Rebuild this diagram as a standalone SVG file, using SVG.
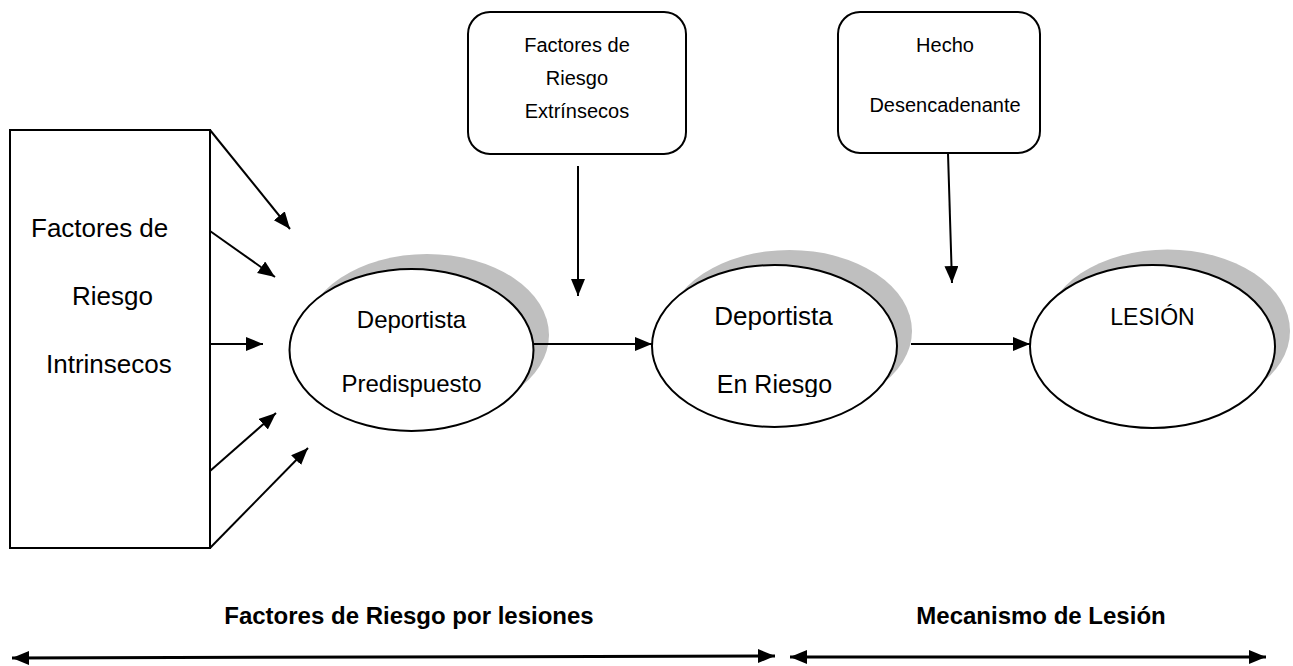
<svg xmlns="http://www.w3.org/2000/svg" width="1293" height="666" viewBox="0 0 1293 666">
<style>
.t{font-family:"Liberation Sans",Arial,sans-serif;fill:#000}
.b{font-weight:bold}
.shape{fill:#fff;stroke:#000;stroke-width:2}
.shadow{fill:#bfbfbf;stroke:none}
.conn{stroke:#000;stroke-width:2;fill:none}
.thick{stroke:#000;stroke-width:3;fill:none}
</style>
<defs>
<marker id="ah" markerUnits="userSpaceOnUse" markerWidth="18" markerHeight="16" refX="17" refY="7" orient="auto">
<path d="M0,0 L17,7 L0,14 Z" fill="#000"/>
</marker>
<marker id="ahb" markerUnits="userSpaceOnUse" markerWidth="18" markerHeight="16" refX="17" refY="7" orient="auto-start-reverse">
<path d="M0,0 L17,7 L0,14 Z" fill="#000"/>
</marker>
<clipPath id="clipEn"><rect x="600" y="200" width="400" height="197"/></clipPath>
</defs>

<g id="intrinsecos">
<rect class="shape" x="10" y="130" width="200" height="418"/>
<text class="t" x="31" y="237" font-size="26">Factores de</text>
<text class="t" x="72" y="305" font-size="26">Riesgo</text>
<text class="t" x="46" y="373" font-size="26">Intrinsecos</text>
</g>

<g id="extrinsecos">
<rect class="shape" x="468" y="12" width="218" height="142" rx="22" ry="22"/>
<text class="t" x="577" y="52" font-size="20" text-anchor="middle">Factores de</text>
<text class="t" x="577" y="85" font-size="20" text-anchor="middle">Riesgo</text>
<text class="t" x="577" y="118" font-size="20" text-anchor="middle">Extrínsecos</text>
</g>

<g id="hecho">
<rect class="shape" x="838" y="12" width="202" height="141" rx="22" ry="22"/>
<text class="t" x="945" y="52" font-size="20" text-anchor="middle">Hecho</text>
<text class="t" x="945" y="112" font-size="20" text-anchor="middle">Desencadenante</text>
</g>

<g id="predispuesto">
<ellipse class="shadow" cx="427" cy="335" rx="122" ry="81"/>
<ellipse class="shape" cx="411.5" cy="350" rx="122" ry="81"/>
<text class="t" x="411.5" y="328" font-size="24" text-anchor="middle">Deportista</text>
<text class="t" x="411.5" y="392" font-size="24" text-anchor="middle">Predispuesto</text>
</g>

<g id="enriesgo">
<ellipse class="shadow" cx="789.5" cy="331" rx="122.5" ry="81"/>
<ellipse class="shape" cx="774.5" cy="346" rx="122.5" ry="81"/>
<text class="t" x="773.5" y="325" font-size="26" text-anchor="middle">Deportista</text>
<text class="t" x="774.5" y="393" font-size="25" text-anchor="middle" clip-path="url(#clipEn)">En Riesgo</text>
</g>

<g id="lesion">
<ellipse class="shadow" cx="1167.5" cy="331" rx="122.5" ry="81.5"/>
<ellipse class="shape" cx="1152.5" cy="346.5" rx="122.5" ry="81.5"/>
<text class="t" x="1152.5" y="325" font-size="23" text-anchor="middle">LESIÓN</text>
</g>

<g id="labels">
<text class="t b" x="409" y="624" font-size="24" text-anchor="middle">Factores de Riesgo por lesiones</text>
<text class="t b" x="1041" y="624" font-size="24" text-anchor="middle">Mecanismo de Lesión</text>
</g>

<g id="connectors">
<line class="conn" x1="210" y1="130" x2="290" y2="229" marker-end="url(#ah)"/>
<line class="conn" x1="210" y1="231" x2="275" y2="277" marker-end="url(#ah)"/>
<line class="conn" x1="210" y1="344" x2="263" y2="344" marker-end="url(#ah)"/>
<line class="conn" x1="210" y1="471" x2="276" y2="413" marker-end="url(#ah)"/>
<line class="conn" x1="210" y1="548" x2="308" y2="448" marker-end="url(#ah)"/>
<line class="conn" x1="578" y1="166" x2="578" y2="296" marker-end="url(#ah)"/>
<line class="conn" x1="948" y1="153" x2="952" y2="283" marker-end="url(#ah)"/>
<line class="conn" x1="533" y1="344" x2="652" y2="344" marker-end="url(#ah)"/>
<line class="conn" x1="911" y1="344" x2="1030" y2="344" marker-end="url(#ah)"/>
<line class="thick" x1="12" y1="658" x2="775" y2="656" marker-start="url(#ahb)" marker-end="url(#ahb)"/>
<line class="thick" x1="790" y1="657" x2="1266" y2="657" marker-start="url(#ahb)" marker-end="url(#ahb)"/>
</g>
</svg>
